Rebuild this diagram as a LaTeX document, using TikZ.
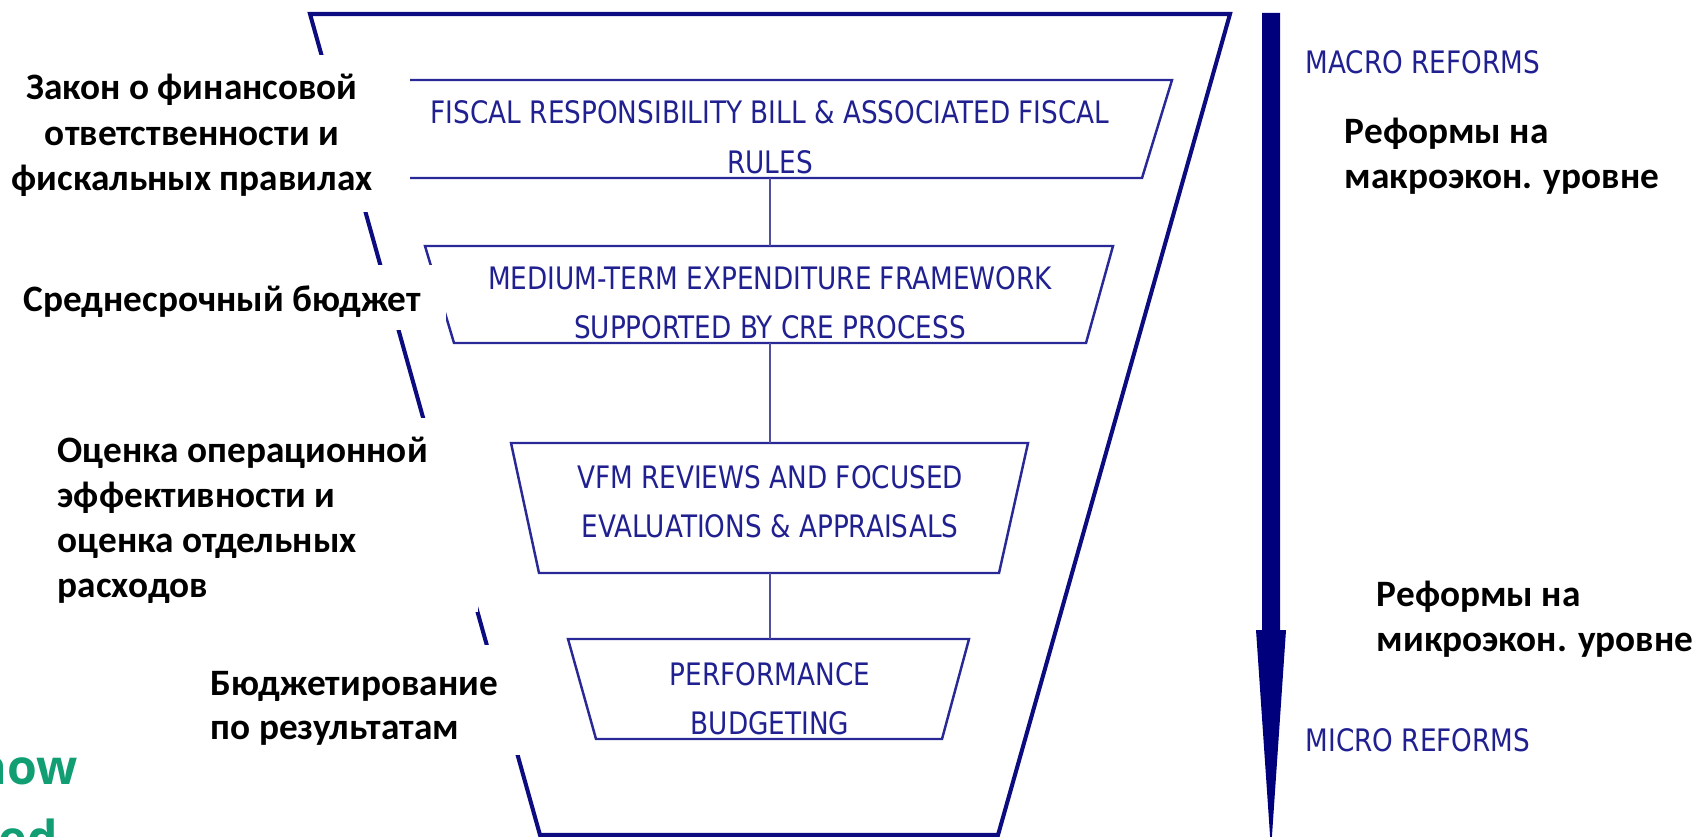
\documentclass[tikz,border=0pt]{standalone}
\usepackage{fontspec}
\newfontfamily\rufont{Carlito}
\newfontfamily\enfont{DejaVu Sans}[FakeStretch=0.85]
\newfontfamily\grfont{Open Sans}

\definecolor{funnelblue}{RGB}{12,12,128}
\definecolor{boxblue}{RGB}{40,40,150}
\definecolor{linkblue}{RGB}{80,80,160}
\definecolor{capblue}{RGB}{32,32,145}
\definecolor{arrowblue}{RGB}{0,0,125}
\definecolor{keygreen}{RGB}{16,158,114}

\tikzset{
  funnel/.style={draw=funnelblue,line width=1.15pt,line join=miter},
  stage/.style={draw=boxblue,line width=0.7pt},
  link/.style={draw=linkblue,line width=0.55pt},
  mask/.style={fill=white},
  caps/.style={font=\enfont\fontsize{8.8}{10}\selectfont,text=capblue,inner sep=0pt,anchor=base},
  rulab/.style={font=\rufont\bfseries\fontsize{10.6}{12}\selectfont,text=black,inner sep=0pt},
  keyword/.style={font=\grfont\bfseries\fontsize{13.7}{16}\selectfont,text=keygreen,inner sep=0pt},
}

\begin{document}
\begin{tikzpicture}[x=0.01cm,y=-0.01cm]
\useasboundingbox (0,0) rectangle (1698,837);
\clip (0,0) rectangle (1698,837);

% outer funnel
\draw[funnel] (310,14) -- (1230,14) -- (998,835) -- (540,835) -- cycle;

% stage boxes
\draw[stage] (368,80) -- (1172,80) -- (1142,178) -- (398,178) -- cycle;
\draw[stage] (425,246) -- (1113,246) -- (1086,343) -- (454,343) -- cycle;
\draw[stage] (511,443) -- (1028,443) -- (999,573) -- (539,573) -- cycle;
\draw[stage] (568,639) -- (969,639) -- (942,739) -- (596,739) -- cycle;

\coordinate (s1s) at (770,178);
\coordinate (s2n) at (770,246);
\coordinate (s2s) at (770,343);
\coordinate (s3n) at (770,443);
\coordinate (s3s) at (770,573);
\coordinate (s4n) at (770,639);
\draw[link] (s1s) -- (s2n);
\draw[link] (s2s) -- (s3n);
\draw[link] (s3s) -- (s4n);

% stage captions
\node[caps] (fr1) at (770,124) {FISCAL RESPONSIBILITY BILL \& ASSOCIATED FISCAL};
\node[caps] (fr2) at (770,174) {RULES};
\node[caps] (mt1) at (770,290) {MEDIUM-TERM EXPENDITURE FRAMEWORK};
\node[caps] (mt2) at (770,339) {SUPPORTED BY CRE PROCESS};
\node[caps] (vf1) at (770,488) {VFM REVIEWS AND FOCUSED};
\node[caps] (vf2) at (770,537) {EVALUATIONS \& APPRAISALS};
\node[caps] (pb1) at (770,685) {PERFORMANCE};
\node[caps] (pb2) at (770,734) {BUDGETING};

% white backing of the left labels
\fill[mask] (-10,55) rectangle (410,212);
\fill[mask] (-10,265) rectangle (446,330);
\fill[mask] (-10,418) rectangle (478,612);
\fill[mask] (150,645) rectangle (525,755);

% left labels
\node[rulab,anchor=base] (la1) at (192,100) {Закон о финансовой};
\node[rulab,anchor=base] (la2) at (192,146) {ответственности и};
\node[rulab,anchor=base] (la3) at (192,191) {фискальных правилах};
\node[rulab,anchor=base west] (lb1) at (23,311) {Среднесрочный бюджет};
\node[rulab,anchor=base west] (lc1) at (57,462) {Оценка операционной};
\node[rulab,anchor=base west] (lc2) at (57,507) {эффективности и};
\node[rulab,anchor=base west] (lc3) at (57,552) {оценка отдельных};
\node[rulab,anchor=base west] (lc4) at (57,597) {расходов};
\node[rulab,anchor=base west] (ld1) at (210,695) {Бюджетирование};
\node[rulab,anchor=base west] (ld2) at (210,739) {по результатам};

% green fragments at the lower left
\node[keyword,anchor=base east] (kw1) at (78,784) {now};
\node[keyword,anchor=base west] (kw2) at (-2,855) {ed};

% macro-to-micro arrow
\fill[arrowblue] (1262,13) -- (1280,13) -- (1280,630) -- (1286,630)
  -- (1271,850) -- (1256,630) -- (1262,630) -- cycle;

% right labels
\node[caps,anchor=base west] (macro) at (1305,74) {MACRO REFORMS};
\node[rulab,anchor=base west] (ra1) at (1344,144) {Реформы на};
\node[rulab,anchor=base west] (ra2) at (1344,189) {макроэкон. уровне};
\node[rulab,anchor=base west] (rb1) at (1376,606) {Реформы на};
\node[rulab,anchor=base west] (rb2) at (1376,651) {микроэкон. уровне};
\node[caps,anchor=base west] (micro) at (1305,751) {MICRO REFORMS};
\end{tikzpicture}
\end{document}
